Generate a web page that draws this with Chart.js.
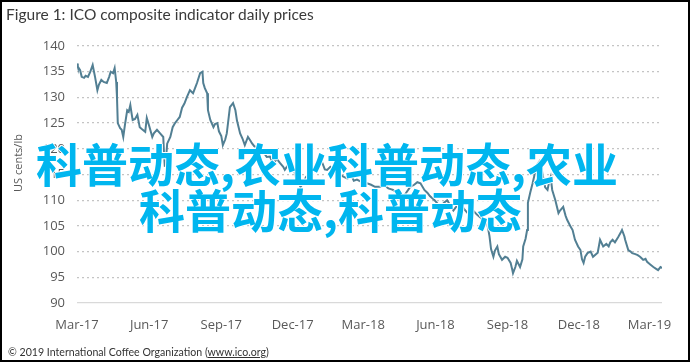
<!DOCTYPE html>
<html>
<head>
<meta charset="utf-8">
<script src="https://cdn.jsdelivr.net/npm/chart.js@4.4.1/dist/chart.umd.min.js"></script>
<style>
  html, body { margin: 0; padding: 0; background: #fff; }
  #wrap { position: relative; width: 695px; height: 364px; overflow: hidden; }
  #c { position: absolute; left: 0; top: 0; }
  #frame { position: absolute; left: 0; top: 0; width: 690px; height: 362px; box-sizing: border-box; border: 2px solid #000; pointer-events: none; }
  #title { position: absolute; left: 6px; top: 5px; font-family: Lato, "Open Sans", sans-serif; font-size: 15.5px; color: #3a3a3a; white-space: nowrap; }
  #ytitle { position: absolute; left: 17px; top: 163px; transform: translate(-50%, -50%) rotate(-90deg); font-family: "Open Sans", sans-serif; font-size: 11px; color: #595959; white-space: nowrap; }
  #footer { position: absolute; left: 8px; top: 346px; font-family: Lato, "Open Sans", sans-serif; font-size: 10.6px; color: #333; white-space: nowrap; }
  #footer u { text-decoration: underline; }
  .wm { position: absolute; font-family: "Noto Sans CJK SC", sans-serif; font-weight: 700; font-size: 46px; line-height: 46px; color: #00b6ef; white-space: nowrap; letter-spacing: 0px;
        text-shadow: 1px 0 #fff, -1px 0 #fff, 0 1px #fff, 0 -1px #fff; }
</style>
</head>
<body>
<div id="wrap">
  <canvas id="c" width="695" height="364"></canvas>
  <div id="title">Figure 1: ICO composite indicator daily prices</div>
  <div id="ytitle">US cents/lb</div>
  <div id="footer">© 2019 International Coffee Organization (<u>www.ico.org</u>)</div>
  <div class="wm" id="wm1" style="left:36px; top:139px;">科普动态,农业科普动态,农业</div>
  <div class="wm" id="wm2" style="left:139px; top:185px;">科普动态,科普动态</div>
  <div id="frame"></div>
</div>
<script>
// Days since 1 March 2017
const dayOffsets = [0,1,4,6,9,11,14,17,20,23,26,28,31,34,38,41,43,46,48,50,51,52,55,57,59,61,64,66,68,70,71,74,77,79,80,83,87,89,92,96,98,102,106,110,111,112,114,115,119,122,125,128,131,134,137,140,144,148,151,153,157,160,161,163,166,167,170,174,176,179,181,184,186,189,191,195,199,202,204,208,211,214,218,221,223,226,230,234,237,242,246,250,255,259,263,265,269,272,276,279,285,288,292,297,302,306,310,313,316,319,323,325,330,336,341,345,350,353,357,362,366,370,375,380,387,392,397,403,407,412,416,420,425,430,434,438,443,447,450,456,459,463,468,472,476,480,484,489,493,498,501,505,510,514,518,523,526,528,531,533,536,538,542,546,549,553,555,556,559,561,565,568,569,572,574,575,578,581,584,587,590,592,595,597,600,602,604,606,610,614,616,620,623,625,629,632,635,639,642,644,646,648,651,655,658,664,667,671,675,678,680,683,686,690,693,695,698,699,703,706,708,712,715,718,722,725,727,731,735,739,741,744,746];
// ICO composite indicator, US cents/lb
const prices = [136.6,136.0,135.3,134.0,133.8,134.2,134.0,135.0,136.3,134.0,131.4,132.5,133.4,133.0,132.8,134.0,135.0,134.7,135.7,133.0,130.0,125.0,124.0,123.7,122.3,124.5,127.5,127.2,128.5,126.5,125.6,125.8,126.6,125.0,124.2,123.8,123.3,126.0,124.5,122.3,123.0,123.7,123.0,122.3,119.0,116.5,119.0,121.0,122.3,124.2,125.0,125.6,126.2,128.0,128.8,130.0,131.4,130.8,132.0,132.8,134.7,135.0,132.8,131.8,130.8,127.5,125.6,124.2,124.8,125.0,123.4,122.5,120.7,121.8,123.0,128.1,128.9,127.5,125.5,123.0,122.0,120.7,122.3,121.6,121.1,120.5,120.2,119.2,119.5,118.4,118.5,117.2,118.0,117.2,116.5,115.9,116.8,117.2,116.5,114.5,112.6,113.2,114.5,115.3,116.0,116.2,117.2,117.2,116.0,115.9,116.5,116.2,115.4,114.9,114.5,114.2,114.8,113.8,114.0,113.6,113.1,113.3,113.0,112.6,112.6,112.9,112.3,112.0,111.5,111.0,110.6,111.5,112.6,113.0,113.5,113.3,112.0,111.4,110.8,110.0,109.5,108.7,109.5,110.0,109.0,108.0,108.8,109.5,108.4,107.5,107.8,108.0,107.2,106.7,106.0,105.6,103.0,100.5,99.0,100.2,101.0,99.5,98.4,99.0,98.8,97.8,96.5,95.8,97.0,98.2,97.0,98.5,101.0,102.5,104.2,109.5,111.5,113.3,115.3,117.0,117.6,116.5,114.0,112.5,112.0,113.5,114.5,112.0,110.0,107.5,108.0,108.7,107.0,106.2,105.0,104.2,102.3,101.0,100.3,98.5,97.8,99.0,99.7,100.0,99.0,99.8,102.3,101.0,101.5,101.0,101.8,102.3,101.8,102.8,103.6,104.2,103.0,102.3,100.3,100.0,99.7,99.5,99.3,99.0,98.4,98.6,98.0,97.5,97.0,96.6,96.4,97.0,96.8];
// X-axis ticks (days since 1 March 2017) and their labels
const tickDays = [0,92,184,275,365,457,549,640,730];
const tickLabels = ['Mar-17','Jun-17','Sep-17','Dec-17','Mar-18','Jun-18','Sep-18','Dec-18','Mar-19'];
const yMin = 90, yMax = 140, yStep = 5;

const points = dayOffsets.map((d, i) => ({ x: d, y: prices[i] }));

new Chart(document.getElementById('c'), {
  type: 'line',
  data: {
    datasets: [{
      data: points,
      borderColor: '#527f93',
      borderWidth: 2,
      pointRadius: 0,
      tension: 0,
      fill: false
    }]
  },
  options: {
    responsive: false,
    animation: false,
    events: [],
    layout: { padding: { left: 0, top: 46, right: 33, bottom: 21 } },
    plugins: { legend: { display: false }, tooltip: { enabled: false }, title: { display: false } },
    scales: {
      x: {
        type: 'linear',
        min: 0,
        max: dayOffsets[dayOffsets.length - 1],
        afterBuildTicks: s => { s.ticks = tickDays.map(v => ({ value: v })); },
        afterFit: s => { s.height = 40; },
        grid: { display: false, drawTicks: false },
        border: { display: false },
        ticks: {
          autoSkip: false, maxRotation: 0, padding: 14,
          color: '#595959', font: { family: 'Open Sans', size: 13 },
          callback: (v) => { const i = tickDays.indexOf(v); return i >= 0 ? tickLabels[i] : ''; }
        }
      },
      y: {
        min: yMin, max: yMax,
        afterFit: s => { s.width = 77; },
        grid: {
          drawTicks: false,
          lineWidth: 1.3,
          color: c => c.tick && c.tick.value === yMin ? '#d9d9d9' : '#c4c4c4'
        },
        border: { display: false, dash: c => (c.tick && c.tick.value === yMin) ? [] : [2, 3] },
        ticks: {
          stepSize: yStep, padding: 12,
          color: '#595959', font: { family: 'Open Sans', size: 13 }
        }
      }
    }
  }
});
</script>
</body>
</html>
